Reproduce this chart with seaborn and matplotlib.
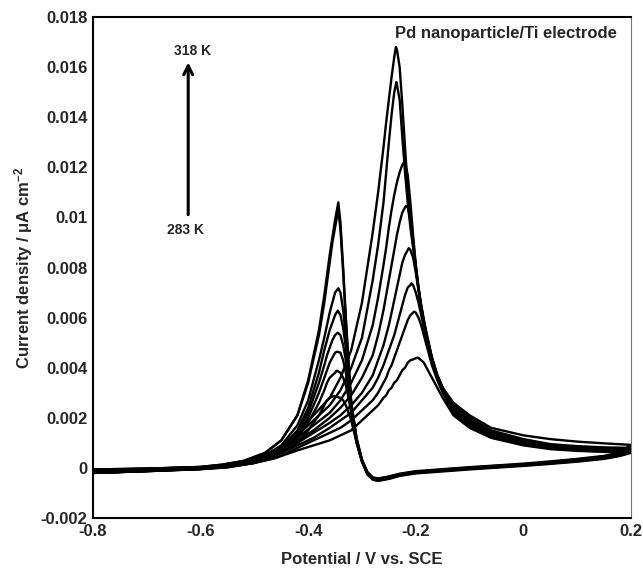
import numpy as np
import pandas as pd
import matplotlib
matplotlib.use("Agg")
import matplotlib.pyplot as plt
import seaborn as sns

# -------------------------------
# data (V vs. SCE, current density)
# -------------------------------
temps = [283, 288, 293, 298, 303, 308, 313, 318]

# forward (anodic) sweep, -0.8 -> 0.2 V
fwd_v = [-0.80, -0.70, -0.60, -0.55,
         -0.50, -0.46, -0.42, -0.39, -0.36, -0.34, -0.32, -0.30,
         -0.28, -0.27, -0.26, -0.255, -0.25, -0.245, -0.24, -0.235, -0.23, -0.225,
         -0.22, -0.215, -0.21, -0.205, -0.20, -0.195, -0.19, -0.185, -0.18,
         -0.17, -0.16, -0.15,
         -0.13, -0.10, -0.06, 0.00, 0.05, 0.10, 0.15, 0.20]

fwd_283 = [-0.0002, -0.00013, -0.00005, 0.00002,
           0.0002, 0.0004, 0.0007, 0.0009, 0.0011, 0.0013, 0.0015, 0.0019,
           0.0023, 0.0025, 0.0028, 0.0029, 0.0031, 0.0032, 0.0034, 0.0035, 0.0037, 0.0039,
           0.0040, 0.0042, 0.0043, 0.00433, 0.00438, 0.00439, 0.0043, 0.0042, 0.0040,
           0.0036, 0.0032, 0.0028,
           0.0021, 0.0016, 0.0012, 0.0009, 0.00075, 0.00068, 0.00064, 0.0006]
fwd_288 = [-0.0002, -0.00013, -0.00005, 0.00003,
           0.0002, 0.0004, 0.0008, 0.0011, 0.0014, 0.0016, 0.0019, 0.0023,
           0.0027, 0.0030, 0.0034, 0.0036, 0.0039, 0.0041, 0.0044, 0.0047, 0.0050, 0.0053,
           0.0056, 0.0059, 0.0061, 0.0062, 0.0062, 0.0060, 0.0057, 0.0053, 0.0049,
           0.0041, 0.0035, 0.0030,
           0.0022, 0.0017, 0.00125, 0.00093, 0.00078, 0.0007, 0.00066, 0.00062]
fwd_293 = [-0.0002, -0.00013, -0.00004, 0.00004,
           0.0002, 0.0005, 0.0009, 0.0012, 0.0016, 0.0019, 0.0022, 0.0027,
           0.0032, 0.0036, 0.0041, 0.0044, 0.0047, 0.0050, 0.0053, 0.0057, 0.0061, 0.0065,
           0.0069, 0.0072, 0.0073, 0.0073, 0.0070, 0.0066, 0.0061, 0.0056, 0.0051,
           0.0043, 0.0036, 0.0031,
           0.0022, 0.0017, 0.0013, 0.00096, 0.0008, 0.00072, 0.00068, 0.00065]
fwd_298 = [-0.0002, -0.00012, -0.00004, 0.00005,
           0.0002, 0.0005, 0.0010, 0.0014, 0.0018, 0.0021, 0.0025, 0.0030,
           0.0037, 0.0043, 0.0049, 0.0053, 0.0057, 0.0062, 0.0067, 0.0072, 0.0077, 0.0082,
           0.0085, 0.0087, 0.0087, 0.0084, 0.0078, 0.0071, 0.0064, 0.0058, 0.0052,
           0.0043, 0.0036, 0.0031,
           0.0023, 0.0018, 0.00135, 0.0010, 0.00083, 0.00075, 0.0007, 0.00068]
fwd_303 = [-0.0002, -0.00012, -0.00004, 0.00006,
           0.0003, 0.0006, 0.0011, 0.0015, 0.0020, 0.0024, 0.0029, 0.0036,
           0.0045, 0.0053, 0.0063, 0.0069, 0.0075, 0.0081, 0.0087, 0.0093, 0.0098, 0.0102,
           0.0104, 0.0104, 0.0099, 0.0091, 0.0081, 0.0072, 0.0064, 0.0058, 0.0053,
           0.0043, 0.0036, 0.0031,
           0.0023, 0.0018, 0.0014, 0.00103, 0.00086, 0.00078, 0.00073, 0.0007]
fwd_308 = [-0.0002, -0.00012, -0.00003, 0.00007,
           0.0003, 0.0006, 0.0012, 0.0017, 0.0022, 0.0027, 0.0034, 0.0043,
           0.0057, 0.0068, 0.0081, 0.0088, 0.0096, 0.0103, 0.0109, 0.0114, 0.0118, 0.0121,
           0.0122, 0.0117, 0.0106, 0.0093, 0.0081, 0.0072, 0.0065, 0.0059, 0.0053,
           0.0044, 0.0037, 0.0032,
           0.0024, 0.0019, 0.00145, 0.00107, 0.0009, 0.00082, 0.00077, 0.00074]
fwd_313 = [-0.0002, -0.00011, -0.00003, 0.00008,
           0.0003, 0.0007, 0.0013, 0.0019, 0.0025, 0.0031, 0.0040, 0.0052,
           0.0075, 0.0089, 0.0106, 0.0118, 0.0130, 0.0141, 0.0150, 0.0153, 0.0147, 0.0132,
           0.0118, 0.0106, 0.0096, 0.0088, 0.0080, 0.0072, 0.0065, 0.0059, 0.0054,
           0.0044, 0.0037, 0.0032,
           0.0025, 0.0020, 0.0015, 0.00115, 0.00095, 0.00087, 0.00082, 0.0008]
fwd_318 = [-0.0002, -0.00011, -0.00002, 0.0001,
           0.0003, 0.0007, 0.0014, 0.0021, 0.0028, 0.0036, 0.0047, 0.0066,
           0.0094, 0.0110, 0.0128, 0.0138, 0.0147, 0.0156, 0.0164, 0.0167, 0.0160, 0.0145,
           0.0128, 0.0112, 0.0099, 0.0089, 0.0080, 0.0071, 0.0064, 0.0058, 0.0053,
           0.0044, 0.0037, 0.0032,
           0.0026, 0.0021, 0.0016, 0.0013, 0.00115, 0.00105, 0.00098, 0.00092]

# forward peak (potential, current) per temperature
fwd_peak_v = [-0.197, -0.203, -0.208, -0.213, -0.218, -0.222, -0.236, -0.237]
fwd_peak_i = [0.0044, 0.00624, 0.00737, 0.00877, 0.01046, 0.0122, 0.0154, 0.0168]

# reverse (cathodic) sweep, 0.2 -> -0.8 V
rev_v = [0.18, 0.15, 0.10, 0.05, 0.00, -0.05, -0.10, -0.15, -0.20, -0.23,
         -0.25, -0.27, -0.28, -0.29, -0.30, -0.31,
         -0.32, -0.325, -0.33, -0.335, -0.34,
         -0.35, -0.355, -0.36, -0.365, -0.37, -0.38, -0.40, -0.42, -0.45, -0.48,
         -0.52, -0.56, -0.60, -0.70, -0.80]

rev_283 = [0.00048, 0.00036, 0.00025, 0.00016, 0.00008, 0.00001, -0.00006, -0.00014, -0.00022, -0.00032,
           -0.00044, -0.00052, -0.00047, -0.00026, 0.00024, 0.00100,
           0.0019, 0.0022, 0.0025, 0.0027, 0.0028,
           0.00285, 0.00285, 0.0028, 0.0027, 0.0025, 0.0021, 0.0015, 0.0010, 0.0006, 0.00035,
           0.00018, 0.00007, 0.0, -0.00006, -0.0001]
rev_288 = [0.00050, 0.00038, 0.00027, 0.00018, 0.00010, 0.00003, -0.00004, -0.00012, -0.00020, -0.00030,
           -0.00042, -0.00050, -0.00045, -0.00024, 0.00026, 0.00102,
           0.0022, 0.0028, 0.0033, 0.0036, 0.0038,
           0.0038, 0.0037, 0.0036, 0.0034, 0.0031, 0.0026, 0.0018, 0.0012, 0.0007, 0.0004,
           0.0002, 0.00008, 0.00001, -0.00005, -0.0001]
rev_293 = [0.00052, 0.00040, 0.00029, 0.00020, 0.00011, 0.00004, -0.00003, -0.00011, -0.00019, -0.00029,
           -0.00040, -0.00048, -0.00043, -0.00022, 0.00027, 0.00104,
           0.0023, 0.0031, 0.0038, 0.0043, 0.0046,
           0.0046, 0.0044, 0.0042, 0.0039, 0.0036, 0.0030, 0.0020, 0.0013, 0.0007, 0.0004,
           0.0002, 0.00009, 0.00002, -0.00005, -0.00009]
rev_298 = [0.00053, 0.00041, 0.00030, 0.00020, 0.00012, 0.00005, -0.00002, -0.00010, -0.00018, -0.00028,
           -0.00040, -0.00048, -0.00042, -0.00021, 0.00028, 0.00106,
           0.0024, 0.0034, 0.0043, 0.0049, 0.0053,
           0.0053, 0.0051, 0.0048, 0.0045, 0.0041, 0.0034, 0.0022, 0.0014, 0.0008, 0.00045,
           0.00022, 0.0001, 0.00002, -0.00004, -0.00008]
rev_303 = [0.00055, 0.00042, 0.00031, 0.00021, 0.00012, 0.00005, -0.00002, -0.00010, -0.00018, -0.00028,
           -0.00039, -0.00047, -0.00042, -0.00020, 0.00029, 0.00108,
           0.0025, 0.0037, 0.0048, 0.0056, 0.0061,
           0.0061, 0.0058, 0.0055, 0.0051, 0.0047, 0.0038, 0.0024, 0.0015, 0.0008, 0.00045,
           0.00022, 0.0001, 0.00003, -0.00004, -0.00008]
rev_308 = [0.00057, 0.00044, 0.00032, 0.00022, 0.00014, 0.00007, 0.00000, -0.00008, -0.00016, -0.00026,
           -0.00037, -0.00045, -0.00040, -0.00018, 0.00030, 0.00110,
           0.0026, 0.0040, 0.0053, 0.0063, 0.0070,
           0.0070, 0.0066, 0.0062, 0.0057, 0.0052, 0.0043, 0.0027, 0.0017, 0.0009, 0.0005,
           0.00024, 0.00011, 0.00003, -0.00003, -0.00007]
rev_313 = [0.00059, 0.00046, 0.00034, 0.00024, 0.00015, 0.00008, 0.00001, -0.00007, -0.00015, -0.00025,
           -0.00036, -0.00044, -0.00039, -0.00017, 0.00031, 0.00115,
           0.0026, 0.0042, 0.0059, 0.0078, 0.0095,
           0.0096, 0.0090, 0.0082, 0.0074, 0.0066, 0.0053, 0.0034, 0.0021, 0.0011, 0.0006,
           0.00028, 0.00013, 0.00004, -0.00003, -0.00006]
rev_318 = [0.00062, 0.00048, 0.00036, 0.00026, 0.00017, 0.00010, 0.00003, -0.00005, -0.00013, -0.00023,
           -0.00034, -0.00042, -0.00038, -0.00016, 0.00032, 0.00120,
           0.0026, 0.0042, 0.0060, 0.0080, 0.0098,
           0.0099, 0.0092, 0.0085, 0.0077, 0.0069, 0.0055, 0.0035, 0.0021, 0.0011, 0.0006,
           0.00028, 0.00013, 0.00004, -0.00003, -0.00006]

# reverse peak (potential, current) per temperature
rev_peak_v = [-0.352, -0.347, -0.346, -0.345, -0.345, -0.344, -0.344, -0.344]
rev_peak_i = [0.00287, 0.00388, 0.00464, 0.0054, 0.00628, 0.00717, 0.0103, 0.0106]

fwd_all = [fwd_283, fwd_288, fwd_293, fwd_298, fwd_303, fwd_308, fwd_313, fwd_318]
rev_all = [rev_283, rev_288, rev_293, rev_298, rev_303, rev_308, rev_313, rev_318]

# -------------------------------
# build one long table: forward then reverse for each temperature
# -------------------------------
frames = []
for k, t in enumerate(temps):
    fwd = pd.DataFrame({"potential": fwd_v + [fwd_peak_v[k]],
                        "current": fwd_all[k] + [fwd_peak_i[k]]})
    fwd = fwd.sort_values("potential")
    rev = pd.DataFrame({"potential": rev_v + [rev_peak_v[k]],
                        "current": rev_all[k] + [rev_peak_i[k]]})
    rev = rev.sort_values("potential", ascending=False)
    loop = pd.concat([fwd, rev], ignore_index=True)
    loop["temp"] = t
    frames.append(loop)
df = pd.concat(frames, ignore_index=True)

# -------------------------------
# plot
# -------------------------------
sns.set_style("white")
plt.rcParams["font.family"] = ["Liberation Sans", "DejaVu Sans"]
plt.rcParams["font.weight"] = "bold"
plt.rcParams["mathtext.default"] = "regular"

fig = plt.figure(figsize=(6.43, 5.71), dpi=100)
ax = fig.add_axes([0.1446, 0.0928, 0.8367, 0.8774])

sns.lineplot(data=df, x="potential", y="current", units="temp", estimator=None,
             sort=False, color="black", linewidth=1.7, legend=False, ax=ax)

ax.set_xlim(-0.8, 0.2)
ax.set_ylim(-0.002, 0.018)
ax.set_xticks([-0.8, -0.6, -0.4, -0.2, 0, 0.2])
ax.set_xticks(np.arange(-0.7, 0.2, 0.2), minor=True)
ax.set_yticks(np.arange(-0.002, 0.0181, 0.002))
ax.set_yticks(np.arange(-0.001, 0.018, 0.002), minor=True)
ax.set_xticklabels(["-0.8", "-0.6", "-0.4", "-0.2", "0", "0.2"])
ax.set_yticklabels(["-0.002", "0", "0.002", "0.004", "0.006", "0.008", "0.01",
                    "0.012", "0.014", "0.016", "0.018"])
ax.tick_params(which="both", direction="in", length=5, width=1, top=False, right=False,
               labelsize=12, pad=4)

for side in ["left", "bottom", "top"]:
    ax.spines[side].set_linewidth(1.5)
    ax.spines[side].set_color("black")
ax.spines["right"].set_linewidth(0.8)
ax.spines["right"].set_color("#777777")

ax.set_xlabel("Potential / V vs. SCE", fontsize=12, fontweight="bold", labelpad=10)
ax.set_ylabel(r"Current density / $\mu$A cm$^{-2}$", fontsize=12, fontweight="bold", labelpad=4)

ax.text(0.174, 0.01735, "Pd nanoparticle/Ti electrode", ha="right", va="center",
        fontsize=12, fontweight="bold")

ax.annotate("", xy=(-0.623, 0.0163), xytext=(-0.623, 0.0100),
            arrowprops=dict(arrowstyle="->", lw=2.2, color="black", mutation_scale=16))
ax.text(-0.615, 0.01665, "318 K", ha="center", va="center", fontsize=10, fontweight="bold")
ax.text(-0.628, 0.00948, "283 K", ha="center", va="center", fontsize=10, fontweight="bold")

fig.savefig("out.png", dpi=100)
